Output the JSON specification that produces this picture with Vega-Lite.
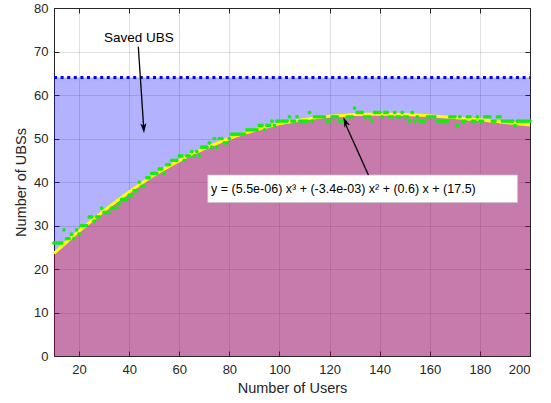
{
  "$schema": "https://vega.github.io/schema/vega-lite/v6.json",
  "width": 476,
  "height": 348,
  "autosize": "none",
  "padding": {"left": 54, "top": 8, "right": 21, "bottom": 47},
  "background": "white",
  "config": {
    "font": "Liberation Sans",
    "view": {"stroke": "#262626", "strokeWidth": 1},
    "axis": {
      "labelFont": "Liberation Sans",
      "titleFont": "Liberation Sans",
      "labelColor": "#262626",
      "titleColor": "#262626",
      "labelFontSize": 13,
      "titleFontSize": 14.5,
      "titleFontWeight": "normal",
      "gridColor": "#262626",
      "gridOpacity": 0.15,
      "tickColor": "#262626",
      "domainColor": "#262626",
      "tickSize": -5
    }
  },
  "datasets": {
    "curve": [
      {"x": 10, "y": 23.6}, {"x": 15, "y": 26.2}, {"x": 20, "y": 28.7}, {"x": 25, "y": 31.1},
      {"x": 30, "y": 33.4}, {"x": 35, "y": 35.6}, {"x": 40, "y": 37.7}, {"x": 45, "y": 39.7},
      {"x": 50, "y": 41.6}, {"x": 55, "y": 43.3}, {"x": 60, "y": 44.9}, {"x": 65, "y": 46.4},
      {"x": 70, "y": 47.7}, {"x": 75, "y": 48.9}, {"x": 80, "y": 50.0}, {"x": 85, "y": 51.0},
      {"x": 90, "y": 51.9}, {"x": 95, "y": 52.7}, {"x": 100, "y": 53.4}, {"x": 105, "y": 53.9},
      {"x": 110, "y": 54.4}, {"x": 115, "y": 54.8}, {"x": 120, "y": 55.1}, {"x": 125, "y": 55.3},
      {"x": 130, "y": 55.5}, {"x": 135, "y": 55.6}, {"x": 140, "y": 55.6}, {"x": 145, "y": 55.6},
      {"x": 150, "y": 55.5}, {"x": 155, "y": 55.4}, {"x": 160, "y": 55.2}, {"x": 165, "y": 55.0},
      {"x": 170, "y": 54.8}, {"x": 175, "y": 54.5}, {"x": 180, "y": 54.3}, {"x": 185, "y": 54.0},
      {"x": 190, "y": 53.7}, {"x": 195, "y": 53.4}, {"x": 200, "y": 53.1}
    ],
    "points": [
      {"x": 10, "y": 26}, {"x": 11, "y": 26}, {"x": 12, "y": 26}, {"x": 13, "y": 26}, {"x": 14, "y": 29},
      {"x": 15, "y": 27}, {"x": 16, "y": 27}, {"x": 17, "y": 28}, {"x": 18, "y": 27}, {"x": 19, "y": 29},
      {"x": 20, "y": 28}, {"x": 21, "y": 30}, {"x": 22, "y": 30}, {"x": 23, "y": 30}, {"x": 24, "y": 32},
      {"x": 25, "y": 32}, {"x": 26, "y": 31}, {"x": 27, "y": 32}, {"x": 28, "y": 32}, {"x": 29, "y": 34},
      {"x": 30, "y": 33}, {"x": 31, "y": 33}, {"x": 32, "y": 33}, {"x": 33, "y": 34}, {"x": 34, "y": 34},
      {"x": 35, "y": 34}, {"x": 36, "y": 35}, {"x": 37, "y": 36}, {"x": 38, "y": 36}, {"x": 39, "y": 36},
      {"x": 40, "y": 37}, {"x": 41, "y": 37}, {"x": 42, "y": 38}, {"x": 43, "y": 38}, {"x": 44, "y": 40},
      {"x": 45, "y": 39}, {"x": 46, "y": 39}, {"x": 47, "y": 41}, {"x": 48, "y": 41}, {"x": 49, "y": 42},
      {"x": 50, "y": 42}, {"x": 51, "y": 42}, {"x": 52, "y": 43}, {"x": 53, "y": 43}, {"x": 54, "y": 42},
      {"x": 55, "y": 44}, {"x": 56, "y": 44}, {"x": 57, "y": 45}, {"x": 58, "y": 45}, {"x": 59, "y": 45},
      {"x": 60, "y": 46}, {"x": 61, "y": 46}, {"x": 62, "y": 45}, {"x": 63, "y": 46}, {"x": 64, "y": 46},
      {"x": 65, "y": 47}, {"x": 66, "y": 46}, {"x": 67, "y": 47}, {"x": 68, "y": 46}, {"x": 69, "y": 48},
      {"x": 70, "y": 48}, {"x": 71, "y": 48}, {"x": 72, "y": 49}, {"x": 73, "y": 48}, {"x": 74, "y": 50},
      {"x": 75, "y": 48}, {"x": 76, "y": 50}, {"x": 77, "y": 50}, {"x": 78, "y": 49}, {"x": 79, "y": 49},
      {"x": 80, "y": 50}, {"x": 81, "y": 51}, {"x": 82, "y": 51}, {"x": 83, "y": 51}, {"x": 84, "y": 51},
      {"x": 85, "y": 51}, {"x": 86, "y": 51}, {"x": 87, "y": 52}, {"x": 88, "y": 52}, {"x": 89, "y": 52},
      {"x": 90, "y": 52}, {"x": 91, "y": 52}, {"x": 92, "y": 53}, {"x": 93, "y": 53}, {"x": 94, "y": 52},
      {"x": 95, "y": 53}, {"x": 96, "y": 53}, {"x": 97, "y": 54}, {"x": 98, "y": 53}, {"x": 99, "y": 54},
      {"x": 100, "y": 54}, {"x": 101, "y": 54}, {"x": 102, "y": 54}, {"x": 103, "y": 54}, {"x": 104, "y": 55},
      {"x": 105, "y": 54}, {"x": 106, "y": 54}, {"x": 107, "y": 55}, {"x": 108, "y": 54}, {"x": 109, "y": 54},
      {"x": 110, "y": 54}, {"x": 111, "y": 54}, {"x": 112, "y": 56}, {"x": 113, "y": 54}, {"x": 114, "y": 55},
      {"x": 115, "y": 55}, {"x": 116, "y": 55}, {"x": 117, "y": 55}, {"x": 118, "y": 55}, {"x": 119, "y": 54},
      {"x": 120, "y": 54}, {"x": 121, "y": 55}, {"x": 122, "y": 55}, {"x": 123, "y": 55}, {"x": 124, "y": 54},
      {"x": 125, "y": 54}, {"x": 126, "y": 54}, {"x": 127, "y": 55}, {"x": 128, "y": 55}, {"x": 129, "y": 55},
      {"x": 130, "y": 57}, {"x": 131, "y": 56}, {"x": 132, "y": 56}, {"x": 133, "y": 56}, {"x": 134, "y": 55},
      {"x": 135, "y": 55}, {"x": 136, "y": 55}, {"x": 137, "y": 54}, {"x": 138, "y": 56}, {"x": 139, "y": 56},
      {"x": 140, "y": 56}, {"x": 141, "y": 55}, {"x": 142, "y": 56}, {"x": 143, "y": 56}, {"x": 144, "y": 55},
      {"x": 145, "y": 55}, {"x": 146, "y": 56}, {"x": 147, "y": 55}, {"x": 148, "y": 55}, {"x": 149, "y": 56},
      {"x": 150, "y": 55}, {"x": 151, "y": 55}, {"x": 152, "y": 54}, {"x": 153, "y": 56}, {"x": 154, "y": 54},
      {"x": 155, "y": 55}, {"x": 156, "y": 54}, {"x": 157, "y": 54}, {"x": 158, "y": 54}, {"x": 159, "y": 55},
      {"x": 160, "y": 55}, {"x": 161, "y": 55}, {"x": 162, "y": 55}, {"x": 163, "y": 54}, {"x": 164, "y": 54},
      {"x": 165, "y": 54}, {"x": 166, "y": 54}, {"x": 167, "y": 54}, {"x": 168, "y": 55}, {"x": 169, "y": 55},
      {"x": 170, "y": 55}, {"x": 171, "y": 53}, {"x": 172, "y": 55}, {"x": 173, "y": 54}, {"x": 174, "y": 54},
      {"x": 175, "y": 55}, {"x": 176, "y": 55}, {"x": 177, "y": 54}, {"x": 178, "y": 54}, {"x": 179, "y": 55},
      {"x": 180, "y": 54}, {"x": 181, "y": 54}, {"x": 182, "y": 55}, {"x": 183, "y": 55}, {"x": 184, "y": 55},
      {"x": 185, "y": 54}, {"x": 186, "y": 54}, {"x": 187, "y": 55}, {"x": 188, "y": 55}, {"x": 189, "y": 54},
      {"x": 190, "y": 54}, {"x": 191, "y": 54}, {"x": 192, "y": 54}, {"x": 193, "y": 54}, {"x": 194, "y": 53},
      {"x": 195, "y": 54}, {"x": 196, "y": 54}, {"x": 197, "y": 54}, {"x": 198, "y": 54}, {"x": 199, "y": 54},
      {"x": 200, "y": 54}
    ]
  },
  "resolve": {"axis": {"x": "independent", "y": "independent"}},
  "layer": [
    {
      "data": {"name": "curve"},
      "mark": {"type": "area", "color": "#0000ff", "opacity": 0.3, "interpolate": "monotone"},
      "encoding": {
        "x": {"field": "x", "type": "quantitative", "scale": {"domain": [10, 200], "nice": false, "zero": false},
              "axis": {"orient": "bottom", "values": [20, 40, 60, 80, 100, 120, 140, 160, 180, 200], "title": "Number of Users", "titlePadding": 5, "labelPadding": 12, "domain": true}},
        "y": {"field": "y", "type": "quantitative", "scale": {"domain": [0, 80], "nice": false},
              "axis": {"orient": "left", "values": [0, 10, 20, 30, 40, 50, 60, 70, 80], "title": "Number of UBSs", "titlePadding": 5, "labelPadding": 11, "domain": true}},
        "y2": {"datum": 64}
      }
    },
    {
      "data": {"name": "curve"},
      "mark": {"type": "area", "color": "#93005f", "opacity": 0.52, "interpolate": "monotone"},
      "encoding": {
        "x": {"field": "x", "type": "quantitative", "axis": null},
        "y": {"field": "y", "type": "quantitative", "axis": null}
      }
    },
    {
      "data": {"name": "curve"},
      "mark": {"type": "line", "color": "#ffff00", "strokeWidth": 3, "interpolate": "monotone"},
      "encoding": {
        "x": {"field": "x", "type": "quantitative", "axis": null},
        "y": {"field": "y", "type": "quantitative", "axis": null}
      }
    },
    {
      "data": {"name": "points"},
      "mark": {"type": "point", "filled": true, "shape": "circle", "size": 14, "color": "#11ee11", "opacity": 1},
      "encoding": {
        "x": {"field": "x", "type": "quantitative", "axis": null},
        "y": {"field": "y", "type": "quantitative", "axis": null}
      }
    },
    {
      "data": {"values": [{}]},
      "mark": {"type": "rule", "color": "#0000ff", "strokeWidth": 3, "strokeDash": [3, 3.6], "strokeCap": "butt"},
      "encoding": {
        "x": {"datum": 10, "type": "quantitative", "axis": {"orient": "top", "values": [20, 40, 60, 80, 100, 120, 140, 160, 180, 200], "labels": false, "title": null, "grid": false, "domain": true}},
        "x2": {"datum": 200},
        "y": {"datum": 64, "type": "quantitative", "axis": {"orient": "right", "values": [0, 10, 20, 30, 40, 50, 60, 70, 80], "labels": false, "title": null, "grid": false, "domain": true}}
      }
    },
    {
      "data": {"values": [{}]},
      "mark": {"type": "rect", "fill": "white", "stroke": "#c8c8c8", "strokeWidth": 0.8},
      "encoding": {
        "x": {"datum": 71.4, "type": "quantitative", "axis": null},
        "x2": {"datum": 195},
        "y": {"datum": 41.6, "type": "quantitative", "axis": null},
        "y2": {"datum": 35.3}
      }
    },
    {
      "data": {"values": [{}]},
      "mark": {"type": "text", "text": "y = (5.5e-06) x³ + (-3.4e-03) x² + (0.6) x + (17.5)", "align": "left", "baseline": "middle", "font": "Liberation Sans", "fontSize": 12.5, "color": "black"},
      "encoding": {
        "x": {"datum": 72.7, "type": "quantitative", "axis": null},
        "y": {"datum": 38.3, "type": "quantitative", "axis": null}
      }
    },
    {
      "data": {"values": [{}]},
      "mark": {"type": "text", "text": "Saved UBS", "align": "center", "baseline": "middle", "font": "Liberation Sans", "fontSize": 13.5, "color": "black"},
      "encoding": {
        "x": {"datum": 43.9, "type": "quantitative", "axis": null},
        "y": {"datum": 73.1, "type": "quantitative", "axis": null}
      }
    },
    {
      "data": {"values": [{}]},
      "mark": {"type": "rule", "color": "black", "strokeWidth": 1.3},
      "encoding": {
        "x": {"datum": 43.65, "type": "quantitative", "axis": null},
        "y": {"datum": 71.1, "type": "quantitative", "axis": null},
        "x2": {"datum": 45.8},
        "y2": {"datum": 52.5}
      }
    },
    {
      "data": {"values": [{}]},
      "mark": {"type": "point", "filled": true, "shape": "M0,0L0.3,1L0,0.75L-0.3,1Z", "size": 400, "color": "black", "opacity": 1, "angle": 176.2, "strokeWidth": 0},
      "encoding": {
        "x": {"datum": 45.93, "type": "quantitative", "axis": null},
        "y": {"datum": 51.2, "type": "quantitative", "axis": null}
      }
    },
    {
      "data": {"values": [{}]},
      "mark": {"type": "rule", "color": "black", "strokeWidth": 1.3},
      "encoding": {
        "x": {"datum": 135.5, "type": "quantitative", "axis": null},
        "y": {"datum": 41.6, "type": "quantitative", "axis": null},
        "x2": {"datum": 126.2},
        "y2": {"datum": 53.5}
      }
    },
    {
      "data": {"values": [{}]},
      "mark": {"type": "point", "filled": true, "shape": "M0,0L0.3,1L0,0.75L-0.3,1Z", "size": 400, "color": "black", "opacity": 1, "angle": 336.6, "strokeWidth": 0},
      "encoding": {
        "x": {"datum": 125.5, "type": "quantitative", "axis": null},
        "y": {"datum": 54.87, "type": "quantitative", "axis": null}
      }
    }
  ]
}
